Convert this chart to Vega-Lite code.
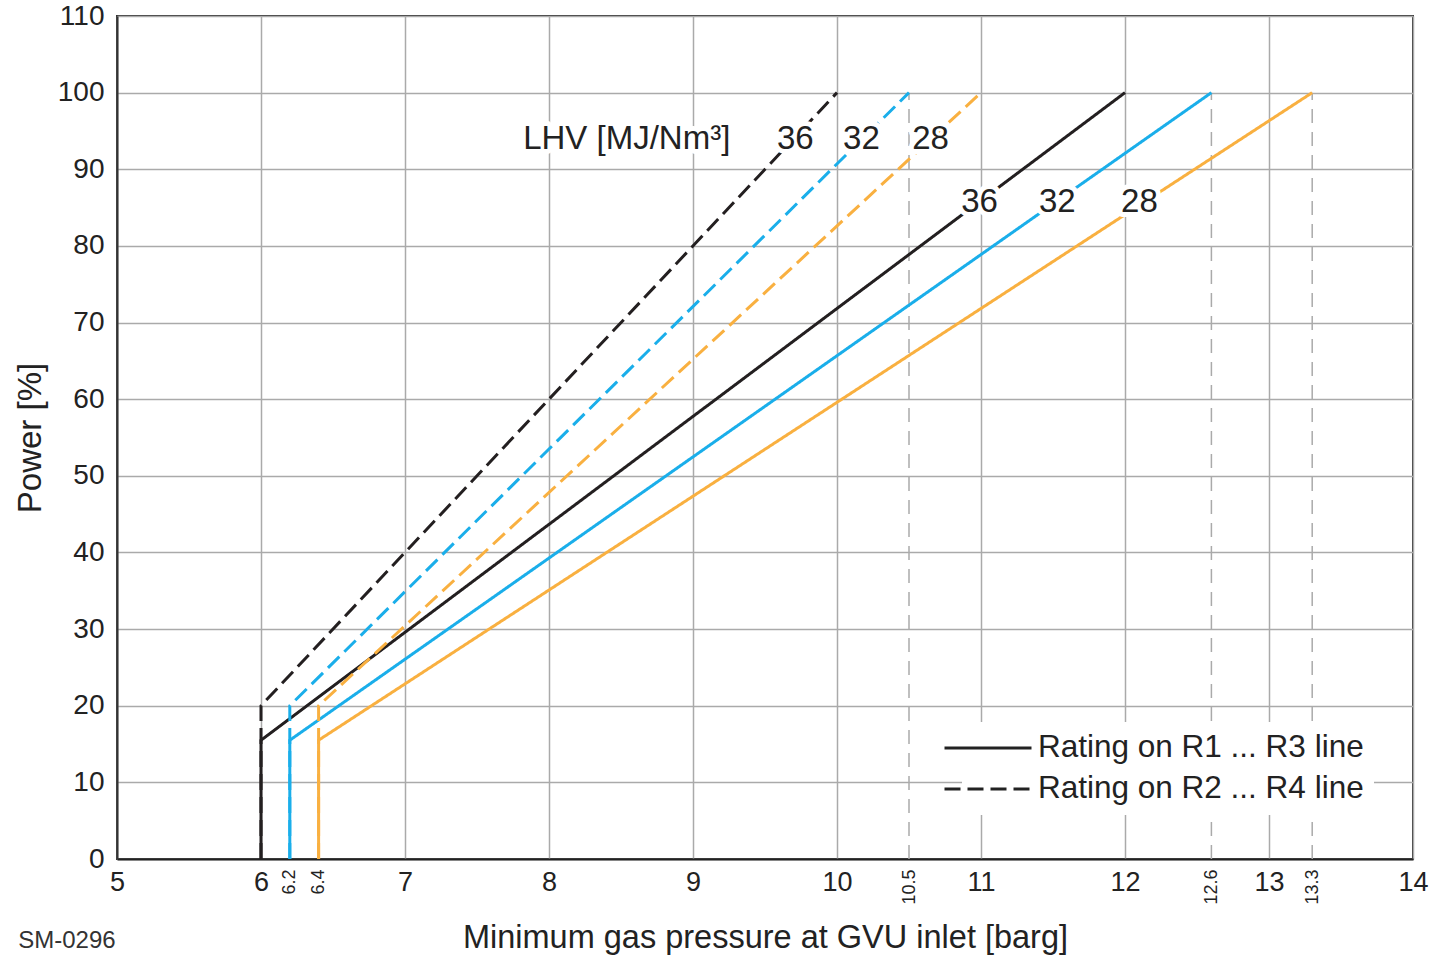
{
  "$schema": "https://vega.github.io/schema/vega-lite/v6.json",
  "width": 1296,
  "height": 843,
  "autosize": "none",
  "padding": {"left": 117, "top": 16, "right": 22, "bottom": 98},
  "background": "white",
  "title": {
    "text": "SM-0296",
    "orient": "bottom",
    "anchor": "start",
    "frame": "bounds",
    "font": "Liberation Sans",
    "fontSize": 24,
    "fontWeight": "normal",
    "color": "#333",
    "offset": -25,
    "dx": 4
  },
  "config": {
    "font": "Liberation Sans",
    "view": {"stroke": "#333", "strokeWidth": 2}
  },
  "resolve": {"axis": {"x": "independent"}},
  "encoding": {
    "y": {
      "field": "y",
      "type": "quantitative",
      "scale": {"domain": [0, 110], "nice": false},
      "axis": {
        "title": "Power [%]",
        "titleFontSize": 33,
        "titleFontWeight": "normal",
        "titleColor": "#222",
        "titlePadding": 10,
        "values": [0, 10, 20, 30, 40, 50, 60, 70, 80, 90, 100, 110],
        "labelFontSize": 28,
        "labelColor": "#222",
        "labelPadding": 13,
        "labelFlush": false,
        "ticks": false,
        "domainColor": "#333",
        "domainWidth": 2,
        "grid": true,
        "gridColor": "#aaaaaa",
        "gridWidth": 1.5
      }
    }
  },
  "layer": [
    {
      "data": {"values": [
        {"x": 10.5, "y": 0, "y2": 100},
        {"x": 12.6, "y": 0, "y2": 100},
        {"x": 13.3, "y": 0, "y2": 100}
      ]},
      "mark": {"type": "rule", "color": "#aaaaaa", "strokeWidth": 1.5, "strokeDash": [14, 9]},
      "encoding": {
        "x": {
          "field": "x",
          "type": "quantitative",
          "scale": {"domain": [5, 14], "nice": false, "zero": false},
          "axis": {
            "orient": "bottom",
            "title": null,
            "values": [6.2, 6.4, 10.5, 12.6, 13.3],
            "labelExpr": "'' + datum.value",
            "labelAngle": -90,
            "labelAlign": "right",
            "labelBaseline": "middle",
            "labelFontSize": 18,
            "labelColor": "#222",
            "labelPadding": 10,
            "labelOverlap": false,
            "labelFlush": false,
            "ticks": false,
            "domain": false,
            "grid": false
          }
        },
        "y2": {"field": "y2"}
      }
    },
    {
      "data": {"values": [
        {"series": "s36", "lhv": "36", "rating": "Rating on R1 ... R3 line", "o": 1, "x": 6, "y": 0},
        {"series": "s36", "lhv": "36", "rating": "Rating on R1 ... R3 line", "o": 2, "x": 6, "y": 15.5},
        {"series": "s36", "lhv": "36", "rating": "Rating on R1 ... R3 line", "o": 3, "x": 12, "y": 100},
        {"series": "s32", "lhv": "32", "rating": "Rating on R1 ... R3 line", "o": 1, "x": 6.2, "y": 0},
        {"series": "s32", "lhv": "32", "rating": "Rating on R1 ... R3 line", "o": 2, "x": 6.2, "y": 15.5},
        {"series": "s32", "lhv": "32", "rating": "Rating on R1 ... R3 line", "o": 3, "x": 12.6, "y": 100},
        {"series": "s28", "lhv": "28", "rating": "Rating on R1 ... R3 line", "o": 1, "x": 6.4, "y": 0},
        {"series": "s28", "lhv": "28", "rating": "Rating on R1 ... R3 line", "o": 2, "x": 6.4, "y": 15.5},
        {"series": "s28", "lhv": "28", "rating": "Rating on R1 ... R3 line", "o": 3, "x": 13.3, "y": 100},
        {"series": "d36", "lhv": "36", "rating": "Rating on R2 ... R4 line", "o": 1, "x": 6, "y": 0},
        {"series": "d36", "lhv": "36", "rating": "Rating on R2 ... R4 line", "o": 2, "x": 6, "y": 20},
        {"series": "d36", "lhv": "36", "rating": "Rating on R2 ... R4 line", "o": 3, "x": 10, "y": 100},
        {"series": "d32", "lhv": "32", "rating": "Rating on R2 ... R4 line", "o": 1, "x": 6.2, "y": 0},
        {"series": "d32", "lhv": "32", "rating": "Rating on R2 ... R4 line", "o": 2, "x": 6.2, "y": 20},
        {"series": "d32", "lhv": "32", "rating": "Rating on R2 ... R4 line", "o": 3, "x": 10.5, "y": 100},
        {"series": "d28", "lhv": "28", "rating": "Rating on R2 ... R4 line", "o": 1, "x": 6.4, "y": 0},
        {"series": "d28", "lhv": "28", "rating": "Rating on R2 ... R4 line", "o": 2, "x": 6.4, "y": 20},
        {"series": "d28", "lhv": "28", "rating": "Rating on R2 ... R4 line", "o": 3, "x": 11, "y": 100}
      ]},
      "mark": {"type": "line", "strokeWidth": 3},
      "encoding": {
        "x": {
          "field": "x",
          "type": "quantitative",
          "scale": {"domain": [5, 14], "nice": false, "zero": false},
          "axis": {
            "orient": "bottom",
            "title": "Minimum gas pressure at GVU inlet [barg]",
            "titleFontSize": 32.5,
            "titleFontWeight": "normal",
            "titleColor": "#222",
            "titlePadding": 26,
            "values": [5, 6, 7, 8, 9, 10, 11, 12, 13, 14],
            "labelFontSize": 27,
            "labelColor": "#222",
            "labelPadding": 10,
            "labelOverlap": false,
            "labelFlush": false,
            "ticks": false,
            "domainColor": "#222",
            "domainWidth": 2,
            "grid": true,
            "gridColor": "#aaaaaa",
            "gridWidth": 1.5
          }
        },
        "detail": {"field": "series"},
        "order": {"field": "o", "type": "quantitative"},
        "color": {
          "field": "lhv",
          "type": "nominal",
          "scale": {"domain": ["36", "32", "28"], "range": ["#231f20", "#1aaeea", "#f9b040"]},
          "legend": null
        },
        "strokeDash": {
          "field": "rating",
          "type": "nominal",
          "scale": {"domain": ["Rating on R1 ... R3 line", "Rating on R2 ... R4 line"], "range": [[1, 0], [16, 7]]},
          "legend": {
            "title": null,
            "orient": "none",
            "legendX": 845,
            "legendY": 706,
            "padding": 10,
            "fillColor": "white",
            "symbolType": "M-3,0H3",
            "symbolSize": 841,
            "symbolStrokeWidth": 3,
            "symbolStrokeColor": "#222",
            "labelFontSize": 31.5,
            "labelColor": "#222",
            "labelOffset": 34,
            "labelLimit": 500,
            "rowPadding": 9
          }
        }
      }
    },
    {
      "data": {"values": [
        {"x": 8.54, "y": 94, "label": "LHV [MJ/Nm³]"},
        {"x": 9.71, "y": 94, "label": "36"},
        {"x": 10.17, "y": 94, "label": "32"},
        {"x": 10.65, "y": 94, "label": "28"},
        {"x": 10.99, "y": 85.7, "label": "36"},
        {"x": 11.53, "y": 85.7, "label": "32"},
        {"x": 12.1, "y": 85.7, "label": "28"}
      ]},
      "encoding": {
        "x": {"field": "x", "type": "quantitative", "axis": null}
      },
      "layer": [
        {
          "mark": {"type": "text", "fontSize": 33, "fill": "white", "stroke": "white", "strokeWidth": 10, "strokeJoin": "round", "baseline": "middle", "align": "center"},
          "encoding": {"text": {"field": "label"}}
        },
        {
          "mark": {"type": "text", "fontSize": 33, "fill": "#222", "baseline": "middle", "align": "center"},
          "encoding": {"text": {"field": "label"}}
        }
      ]
    }
  ]
}
